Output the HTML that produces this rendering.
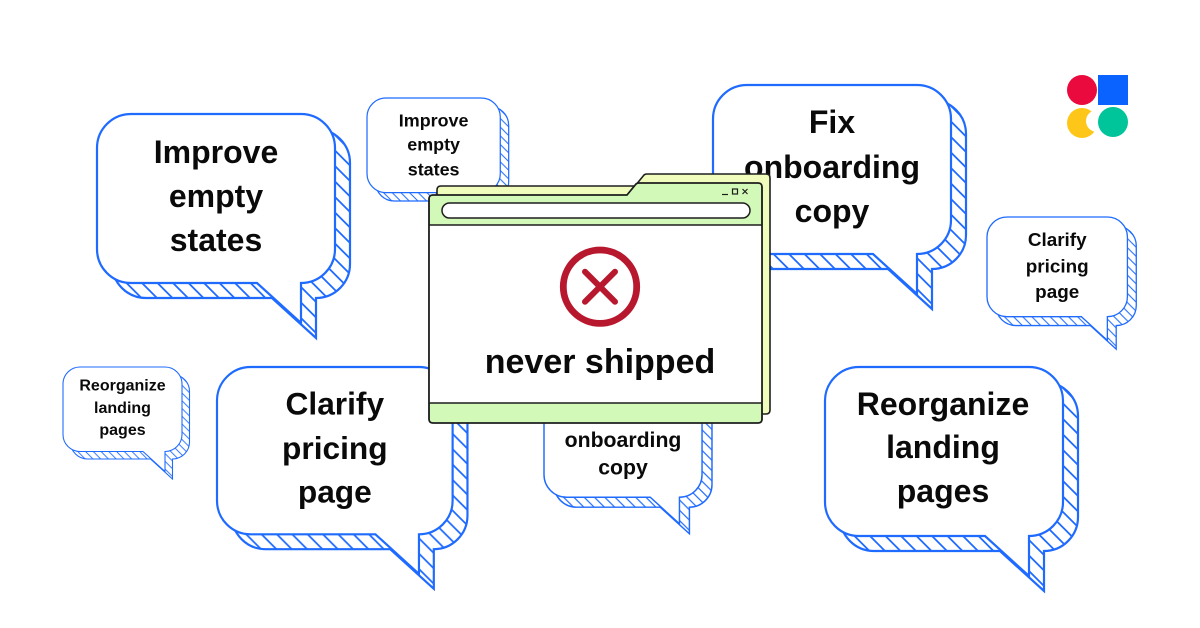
<!DOCTYPE html>
<html>
<head>
<meta charset="utf-8">
<style>
  html,body{margin:0;padding:0;background:#fff;}
  svg{display:block;}
  .t{font-family:"Liberation Sans",Arial,sans-serif;font-weight:bold;fill:#0a0a0a;text-anchor:middle;}
</style>
</head>
<body>
<svg width="1200" height="628" viewBox="0 0 1200 628" xmlns="http://www.w3.org/2000/svg">
  <defs>
    <pattern id="h" patternUnits="userSpaceOnUse" width="15.5" height="15.5">
      <rect width="15.5" height="15.5" fill="#fff"/>
      <path d="M-1,-1 L16.5,16.5 M-1,14.5 L1,16.5 M14.5,-1 L16.5,1" stroke="#1f6bff" stroke-width="1.8"/>
    </pattern>
  </defs>
  <rect width="1200" height="628" fill="#fff"/>

  <!-- Bubble A: Improve empty states (big) -->
  <g transform="translate(97,114)">
    <path transform="translate(15,15)" d="M34,0 H204 A34,34 0 0 1 238,34 V135 A34,34 0 0 1 204,169 V209 L160,169 H34 A34,34 0 0 1 0,135 V34 A34,34 0 0 1 34,0 Z" fill="url(#h)" stroke="#1f6bff" stroke-width="2.2"/>
    <path d="M34,0 H204 A34,34 0 0 1 238,34 V135 A34,34 0 0 1 204,169 V209 L160,169 H34 A34,34 0 0 1 0,135 V34 A34,34 0 0 1 34,0 Z" fill="#fff" stroke="#1f6bff" stroke-width="2.2"/>
    <text class="t" x="119" y="49" font-size="32">Improve</text>
    <text class="t" x="119" y="93" font-size="32">empty</text>
    <text class="t" x="119" y="137" font-size="32">states</text>
  </g>

  <!-- Bubble E: Reorganize landing pages (small left) -->
  <g transform="translate(63,367) scale(0.5)">
    <path transform="translate(15,15)" d="M34,0 H204 A34,34 0 0 1 238,34 V135 A34,34 0 0 1 204,169 V209 L160,169 H34 A34,34 0 0 1 0,135 V34 A34,34 0 0 1 34,0 Z" fill="url(#h)" stroke="#1f6bff" stroke-width="2.2"/>
    <path d="M34,0 H204 A34,34 0 0 1 238,34 V135 A34,34 0 0 1 204,169 V209 L160,169 H34 A34,34 0 0 1 0,135 V34 A34,34 0 0 1 34,0 Z" fill="#fff" stroke="#1f6bff" stroke-width="2.2"/>
    <text class="t" x="119" y="47" font-size="32">Reorganize</text>
    <text class="t" x="119" y="92" font-size="32">landing</text>
    <text class="t" x="119" y="136" font-size="32">pages</text>
  </g>

  <!-- Bubble B: Improve empty states (small top) -->
  <g transform="translate(367,98) scale(0.56)">
    <path transform="translate(15,15)" d="M34,0 H204 A34,34 0 0 1 238,34 V135 A34,34 0 0 1 204,169 V209 L160,169 H34 A34,34 0 0 1 0,135 V34 A34,34 0 0 1 34,0 Z" fill="url(#h)" stroke="#1f6bff" stroke-width="2.2"/>
    <path d="M34,0 H204 A34,34 0 0 1 238,34 V135 A34,34 0 0 1 204,169 V209 L160,169 H34 A34,34 0 0 1 0,135 V34 A34,34 0 0 1 34,0 Z" fill="#fff" stroke="#1f6bff" stroke-width="2.2"/>
    <text class="t" x="119" y="51" font-size="32">Improve</text>
    <text class="t" x="119" y="94" font-size="32">empty</text>
    <text class="t" x="119" y="138" font-size="32">states</text>
  </g>

  <!-- Bubble C: Fix onboarding copy (big top right) -->
  <g transform="translate(713,85)">
    <path transform="translate(15,15)" d="M34,0 H204 A34,34 0 0 1 238,34 V135 A34,34 0 0 1 204,169 V209 L160,169 H34 A34,34 0 0 1 0,135 V34 A34,34 0 0 1 34,0 Z" fill="url(#h)" stroke="#1f6bff" stroke-width="2.2"/>
    <path d="M34,0 H204 A34,34 0 0 1 238,34 V135 A34,34 0 0 1 204,169 V209 L160,169 H34 A34,34 0 0 1 0,135 V34 A34,34 0 0 1 34,0 Z" fill="#fff" stroke="#1f6bff" stroke-width="2.2"/>
    <text class="t" x="119" y="48" font-size="32">Fix</text>
    <text class="t" x="119" y="93" font-size="32">onboarding</text>
    <text class="t" x="119" y="137" font-size="32">copy</text>
  </g>

  <!-- Bubble D: Clarify pricing page (small right) -->
  <g transform="translate(987,217) scale(0.59)">
    <path transform="translate(15,15)" d="M34,0 H204 A34,34 0 0 1 238,34 V135 A34,34 0 0 1 204,169 V209 L160,169 H34 A34,34 0 0 1 0,135 V34 A34,34 0 0 1 34,0 Z" fill="url(#h)" stroke="#1f6bff" stroke-width="2.2"/>
    <path d="M34,0 H204 A34,34 0 0 1 238,34 V135 A34,34 0 0 1 204,169 V209 L160,169 H34 A34,34 0 0 1 0,135 V34 A34,34 0 0 1 34,0 Z" fill="#fff" stroke="#1f6bff" stroke-width="2.2"/>
    <text class="t" x="119" y="49" font-size="32">Clarify</text>
    <text class="t" x="119" y="94" font-size="32">pricing</text>
    <text class="t" x="119" y="137" font-size="32">page</text>
  </g>

  <!-- Bubble F: Clarify pricing page (big bottom left) -->
  <g transform="translate(217,367) scale(0.99)">
    <path transform="translate(15,15)" d="M34,0 H204 A34,34 0 0 1 238,34 V135 A34,34 0 0 1 204,169 V209 L160,169 H34 A34,34 0 0 1 0,135 V34 A34,34 0 0 1 34,0 Z" fill="url(#h)" stroke="#1f6bff" stroke-width="2.2"/>
    <path d="M34,0 H204 A34,34 0 0 1 238,34 V135 A34,34 0 0 1 204,169 V209 L160,169 H34 A34,34 0 0 1 0,135 V34 A34,34 0 0 1 34,0 Z" fill="#fff" stroke="#1f6bff" stroke-width="2.2"/>
    <text class="t" x="119" y="48" font-size="32">Clarify</text>
    <text class="t" x="119" y="93" font-size="32">pricing</text>
    <text class="t" x="119" y="137" font-size="32">page</text>
  </g>

  <!-- Bubble G: onboarding copy (under window) -->
  <g transform="translate(544,385) scale(0.664)">
    <path transform="translate(15,15)" d="M34,0 H204 A34,34 0 0 1 238,34 V135 A34,34 0 0 1 204,169 V209 L160,169 H34 A34,34 0 0 1 0,135 V34 A34,34 0 0 1 34,0 Z" fill="url(#h)" stroke="#1f6bff" stroke-width="2.2"/>
    <path d="M34,0 H204 A34,34 0 0 1 238,34 V135 A34,34 0 0 1 204,169 V209 L160,169 H34 A34,34 0 0 1 0,135 V34 A34,34 0 0 1 34,0 Z" fill="#fff" stroke="#1f6bff" stroke-width="2.2"/>
    <text class="t" x="119" y="48" font-size="32">Fix</text>
    <text class="t" x="119" y="93" font-size="32">onboarding</text>
    <text class="t" x="119" y="135" font-size="32">copy</text>
  </g>

  <!-- Bubble H: Reorganize landing pages (big bottom right) -->
  <g transform="translate(825,367)">
    <path transform="translate(15,15)" d="M34,0 H204 A34,34 0 0 1 238,34 V135 A34,34 0 0 1 204,169 V209 L160,169 H34 A34,34 0 0 1 0,135 V34 A34,34 0 0 1 34,0 Z" fill="url(#h)" stroke="#1f6bff" stroke-width="2.2"/>
    <path d="M34,0 H204 A34,34 0 0 1 238,34 V135 A34,34 0 0 1 204,169 V209 L160,169 H34 A34,34 0 0 1 0,135 V34 A34,34 0 0 1 34,0 Z" fill="#fff" stroke="#1f6bff" stroke-width="2.2"/>
    <text class="t" x="118" y="48" font-size="32">Reorganize</text>
    <text class="t" x="118" y="91" font-size="32">landing</text>
    <text class="t" x="118" y="135" font-size="32">pages</text>
  </g>

  <!-- Window: back layer -->
  <path transform="translate(8,-9)" d="M429,199 Q429,195 433,195 H627 L636,184 Q637,183 639,183 H758 Q762,183 762,187 V419 Q762,423 758,423 H433 Q429,423 429,419 Z" fill="#f0fcbc" stroke="#1e1e1e" stroke-width="1.6"/>
  <!-- Window: front layer -->
  <path d="M429,199 Q429,195 433,195 H627 L636,184 Q637,183 639,183 H758 Q762,183 762,187 V419 Q762,423 758,423 H433 Q429,423 429,419 Z" fill="#d3f9b8" stroke="#1e1e1e" stroke-width="1.6"/>
  <rect x="429.8" y="225" width="331.4" height="178" fill="#fff"/>
  <line x1="429" y1="225" x2="762" y2="225" stroke="#1e1e1e" stroke-width="1.6"/>
  <line x1="429" y1="403" x2="762" y2="403" stroke="#1e1e1e" stroke-width="1.6"/>
  <path d="M429,199 Q429,195 433,195 H627 L636,184 Q637,183 639,183 H758 Q762,183 762,187 V419 Q762,423 758,423 H433 Q429,423 429,419 Z" fill="none" stroke="#1e1e1e" stroke-width="1.6"/>
  <!-- address bar -->
  <rect x="442" y="203" width="308" height="15" rx="7.5" ry="7.5" fill="#fff" stroke="#1e1e1e" stroke-width="1.5"/>
  <!-- window controls -->
  <line x1="722" y1="194.5" x2="728" y2="194.5" stroke="#1e1e1e" stroke-width="1.2"/>
  <rect x="732.5" y="189" width="5" height="5" fill="none" stroke="#1e1e1e" stroke-width="1.2"/>
  <path d="M742.5,189 L747.5,194 M747.5,189 L742.5,194" stroke="#1e1e1e" stroke-width="1.2"/>

  <!-- red X icon -->
  <circle cx="600" cy="286.7" r="36.7" fill="none" stroke="#b8182d" stroke-width="6.8"/>
  <path d="M585,271.7 L615,301.7 M615,271.7 L585,301.7" stroke="#b8182d" stroke-width="6" stroke-linecap="round"/>

  <text class="t" x="600" y="373" font-size="34">never shipped</text>

  <!-- logo -->
  <circle cx="1082" cy="90" r="15" fill="#ea0a3e"/>
  <rect x="1098" y="75" width="30" height="30" fill="#0a63ff"/>
  <circle cx="1082" cy="123" r="15" fill="#ffc61a"/>
  <circle cx="1097" cy="121" r="11" fill="#fff"/>
  <circle cx="1113" cy="122" r="15" fill="#00c49a"/>
</svg>
</body>
</html>
